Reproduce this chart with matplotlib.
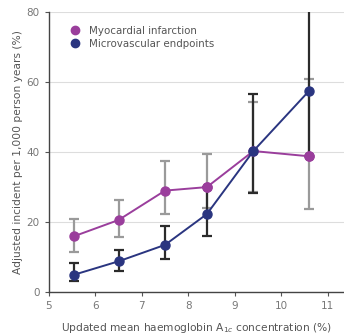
import matplotlib
matplotlib.use("Agg")
import matplotlib.pyplot as plt

x = [5.55, 6.5, 7.5, 8.4, 9.4, 10.6]

mi = [16.0, 20.6, 29.0, 30.0, 40.3, 38.8]
mi_lo = [11.6, 15.7, 22.3, 24.0, 28.5, 23.8]
mi_hi = [20.8, 26.3, 37.5, 39.5, 54.2, 61.0]

mv = [5.0, 8.8, 13.5, 22.3, 40.3, 57.5]
mv_lo = [3.3, 6.0, 9.5, 16.0, 28.3, 38.8]
mv_hi = [8.4, 12.1, 19.0, 30.0, 56.5, 82.0]

purple = "#9a3e9c"
navy = "#2a3580"

fig = plt.figure(figsize=(3.44, 3.35), dpi=100)
ax = fig.add_axes([0.142, 0.128, 0.858, 0.836])

ax.errorbar(x, mi, yerr=[[m - l for m, l in zip(mi, mi_lo)], [h - m for m, h in zip(mi, mi_hi)]],
            fmt="none", ecolor="#9a9a9a", elinewidth=1.6, capsize=3.3, capthick=1.6, zorder=2)
ax.errorbar(x, mv, yerr=[[m - l for m, l in zip(mv, mv_lo)], [h - m for m, h in zip(mv, mv_hi)]],
            fmt="none", ecolor="#2b2b2b", elinewidth=1.6, capsize=3.3, capthick=1.6, zorder=2)
ax.plot(x, mi, "-o", color=purple, lw=1.4, ms=6.5, label="Myocardial infarction", zorder=3)
ax.plot(x, mv, "-o", color=navy, lw=1.4, ms=6.5, label="Microvascular endpoints", zorder=4)
# purple markers sit over the blue caps they cover
ax.plot([x[3], x[5]], [mi[3], mi[5]], "o", color=purple, ms=6.5, zorder=5)

ax.set_xlim(5, 11.35)
ax.set_ylim(0, 80)
ax.set_xticks(range(5, 12))
ax.set_yticks([0, 20, 40, 60, 80])
ax.yaxis.grid(True, color="#dddddd", lw=0.8)
ax.set_axisbelow(True)
for s in ["top", "right"]:
    ax.spines[s].set_visible(False)
for s in ["left", "bottom"]:
    ax.spines[s].set_color("#444444")
    ax.spines[s].set_linewidth(1.0)
ax.tick_params(colors="#555555", labelsize=7.5, length=3, labelcolor="#777777")

ax.set_xlabel("Updated mean haemoglobin A$_{1c}$ concentration (%)", fontsize=7.7, color="#555555", labelpad=7)
ax.set_ylabel("Adjusted incident per 1,000 person years (%)", fontsize=7.7, color="#555555", labelpad=3)

leg = ax.legend(loc="upper left", bbox_to_anchor=(0.045, 0.985), frameon=False, fontsize=7.4,
                handlelength=0.8, handletextpad=0.9, labelspacing=0.3, labelcolor="#555555")
for h in leg.legend_handles:
    h.set_linestyle("none")
    h.set_markersize(6)

fig.savefig("out.png", dpi=100)
